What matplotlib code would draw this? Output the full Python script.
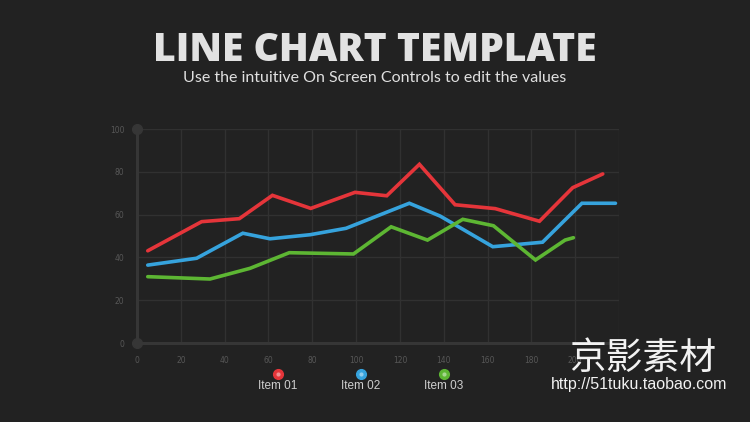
import matplotlib
matplotlib.use("Agg")
import matplotlib.pyplot as plt
from matplotlib.lines import Line2D

# ---- data ----
item01_x = [4.9, 29.5, 46.7, 61.8, 79.3, 99.5, 114.0, 128.9, 145.2, 163.5, 183.7, 198.9, 212.6]
item01_y = [43.1, 56.7, 58.1, 69.0, 62.9, 70.4, 68.8, 83.5, 64.6, 62.8, 56.9, 72.6, 79.0]

item02_x = [4.9, 27.2, 48.3, 60.7, 79.0, 95.4, 124.3, 138.4, 162.4, 185.1, 203.1, 218.4]
item02_y = [36.4, 39.6, 51.3, 48.7, 50.6, 53.6, 65.3, 59.3, 45.0, 47.1, 65.3, 65.3]

item03_x = [4.9, 33.3, 51.6, 59.2, 69.5, 98.8, 116.0, 132.6, 148.7, 162.7, 181.9, 195.4, 199.2]
item03_y = [31.0, 29.9, 34.9, 38.0, 42.2, 41.6, 54.3, 48.1, 57.8, 54.8, 38.8, 48.1, 49.2]

series_names = ["Item 01", "Item 02", "Item 03"]
series_colors = ["#e5353a", "#36a3dd", "#5db633"]

x_ticks = [0, 20, 40, 60, 80, 100, 120, 140, 160, 180, 200]
y_ticks = [0, 20, 40, 60, 80, 100]

title = "LINE CHART TEMPLATE"
subtitle = "Use the intuitive On Screen Controls to edit the values"

BG = "#222222"
GRID = "#313131"
AXIS = "#363636"
TICK = "#575757"

fig = plt.figure(figsize=(7.5, 4.22), dpi=100, facecolor=BG)
ax = fig.add_axes([0.1827, 0.1872, 0.6426, 0.5071])
ax.set_facecolor(BG)
ax.set_xlim(0, 220)
ax.set_ylim(0, 100)

# grid
for gx in range(20, 221, 20):
    ax.axvline(gx, color=GRID, lw=1.0, zorder=1)
for gy in y_ticks[1:]:
    ax.axhline(gy, color=GRID, lw=1.0, zorder=1)

for s in ax.spines.values():
    s.set_visible(False)
ax.plot([0, 0], [0, 100], color=AXIS, lw=2.2, solid_capstyle="butt", zorder=2, clip_on=False)
ax.plot([0, 220], [0, 0], color=AXIS, lw=2.2, solid_capstyle="butt", zorder=2, clip_on=False)
ax.plot([0, 0], [0, 100], "o", color=AXIS, ms=7, zorder=3, clip_on=False)

ax.set_xticks(x_ticks)
ax.set_xticklabels([str(v) for v in x_ticks])
ax.set_yticks(y_ticks)
ax.set_yticklabels([str(v) for v in y_ticks])
ax.tick_params(colors=TICK, labelsize=5.5, length=0, pad=9)

for xs, ys, c in zip([item01_x, item02_x, item03_x],
                     [item01_y, item02_y, item03_y], series_colors):
    ax.plot(xs, ys, color=c, lw=2.6, solid_joinstyle="miter", solid_capstyle="round", zorder=4)

# titles
fig.text(0.5, 0.880, title, ha="center", va="center", color="#e2e2e2",
         fontsize=28.2, fontweight=800, family="Open Sans")
fig.text(0.5, 0.816, subtitle, ha="center", va="center", color="#e0e0e0",
         fontsize=11.5, family="Lato")

# legend
leg_x = [278 / 750, 361 / 750, 444 / 750]
for lx, name, c in zip(leg_x, series_names, series_colors):
    fig.add_artist(Line2D([lx], [1 - 374 / 422], marker="o", ms=7, color=c,
                          markerfacecolor=c, markeredgecolor=c, transform=fig.transFigure))
    fig.add_artist(Line2D([lx], [1 - 374 / 422], marker="o", ms=3, color="#ffffff",
                          markerfacecolor="#ffffff", alpha=0.45, markeredgewidth=0,
                          transform=fig.transFigure))
    fig.text(lx, 1 - 386 / 422, name, ha="center", va="center", color="#cfcfcf",
             fontsize=8.5, family="Liberation Sans")

# watermark
fig.text(569 / 750, 1 - 358 / 422, "京影素材", ha="left", va="center", color="#f2f2f2",
         fontsize=26.5, family=["Noto Sans CJK SC", "DejaVu Sans"])
fig.text(551 / 750, 1 - 384 / 422, "http://51tuku.taobao.com", ha="left", va="center",
         color="#f2f2f2", fontsize=11.5, family="Liberation Sans")

fig.savefig("out.png", dpi=100, facecolor=BG)
